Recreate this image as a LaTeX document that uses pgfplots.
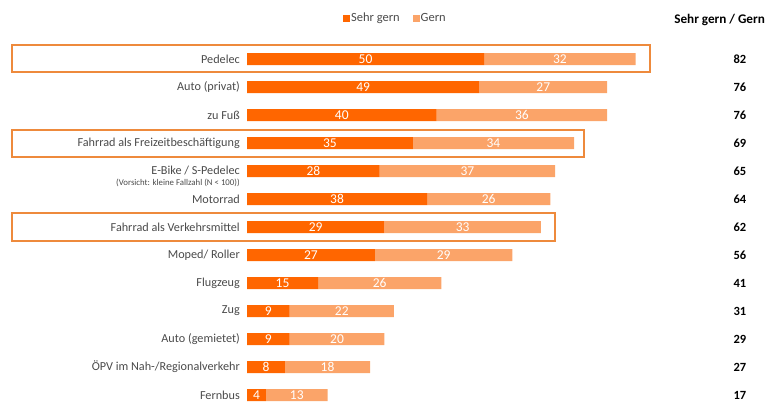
\documentclass[border=0pt]{standalone}
\usepackage{pgfplots}
\usepackage{pgfplotstable}
\pgfplotsset{compat=1.18}
\usepackage{fontspec}
\setmainfont{Carlito}
\definecolor{dark}{HTML}{FF6600}
\definecolor{light}{HTML}{FBA469}
\definecolor{boxc}{HTML}{EE8A3C}
\definecolor{lab}{HTML}{4A4A4A}

\pgfplotstableread{
i a b t
0 50 32 82
1 49 27 76
2 40 36 76
3 35 34 69
4 28 37 65
5 38 26 64
6 29 33 62
7 27 29 56
8 15 26 41
9 9 22 31
10 9 20 29
11 8 18 27
12 4 13 17
}\data

\pgfplotsset{
  mygeom/.style={
    at={(247pt,357pt)}, anchor=north west,
    scale only axis, width=521.4pt, height=357pt,
    xmin=0, xmax=110, ymin=-0.5, ymax=12.25, y dir=reverse,
    axis line style={draw=none}, major tick length=0pt,
    xtick=\empty, clip=false,
    /pgf/number format/assume math mode=true,
  },
  sqleg/.style={legend image code/.code={\fill[##1] (0pt,-3.5pt) rectangle (7pt,3.5pt);}},
}

\begin{document}
\begin{tikzpicture}
\path[use as bounding box] (0pt,0pt) rectangle (768pt,402pt);
\begin{axis}[
  mygeom,
  xbar stacked, bar width=12pt,
  ytick={0,...,12},
  yticklabels={Pedelec, Auto (privat), zu Fuß, Fahrrad als Freizeitbeschäftigung, E-Bike / S-Pedelec, Motorrad, Fahrrad als Verkehrsmittel, Moped/ Roller, Flugzeug, Zug, Auto (gemietet), ÖPV im Nah-/Regionalverkehr, Fernbus},
  yticklabel style={font=\fontsize{12.2}{14}\selectfont, text=lab, anchor=east, inner sep=0pt, xshift=-7pt},
  legend style={at={(axis cs:31.2,-1.46)}, anchor=center, draw=none, fill=none,
    legend columns=2, font=\fontsize{12.5}{14}\selectfont, text=lab,
    /tikz/every even column/.append style={column sep=12pt},
    nodes={inner sep=1pt}},
]
\addplot[fill=dark, draw=none, sqleg] table[x=a,y=i]{\data};
\addplot[fill=light, draw=none, sqleg] table[x=b,y=i]{\data};
\legend{Sehr gern, Gern}
\end{axis}
\begin{axis}[
  mygeom, ytick=\empty,
  nodes near coords={\pgfmathprintnumber{\pgfplotspointmeta}},
]
\addplot[only marks, mark=none, point meta=explicit,
  nodes near coords style={anchor=center, text=white, font=\fontsize{13.5}{15}\selectfont}]
  table[x expr=\thisrow{a}/2, y=i, meta=a]{\data};
\addplot[only marks, mark=none, point meta=explicit,
  nodes near coords style={anchor=center, text=white, font=\fontsize{13.5}{15}\selectfont}]
  table[x expr=\thisrow{a}+\thisrow{b}/2, y=i, meta=b]{\data};
\addplot[only marks, mark=none, point meta=explicit,
  nodes near coords style={anchor=center, text=black, font=\fontsize{12.5}{14}\selectfont\bfseries}]
  table[x expr=104, y=i, meta=t]{\data};
\node[anchor=west, font=\fontsize{13.2}{15}\selectfont\bfseries, inner sep=0pt] at (axis cs:90.1,-1.39) {Sehr gern / Gern};
\node[anchor=east, font=\fontsize{8.8}{10}\selectfont, text=lab, inner sep=0pt] at (axis cs:-1.48,4.43) {(Vorsicht: kleine Fallzahl (N < 100))};
\draw[boxc, line width=1.5pt] (axis cs:-49.6,-0.5) rectangle (axis cs:85,0.46);
\draw[boxc, line width=1.5pt] (axis cs:-49.6,2.54) rectangle (axis cs:71.1,3.5);
\draw[boxc, line width=1.5pt] (axis cs:-49.6,5.5) rectangle (axis cs:65,6.5);
\end{axis}
\end{tikzpicture}
\end{document}
